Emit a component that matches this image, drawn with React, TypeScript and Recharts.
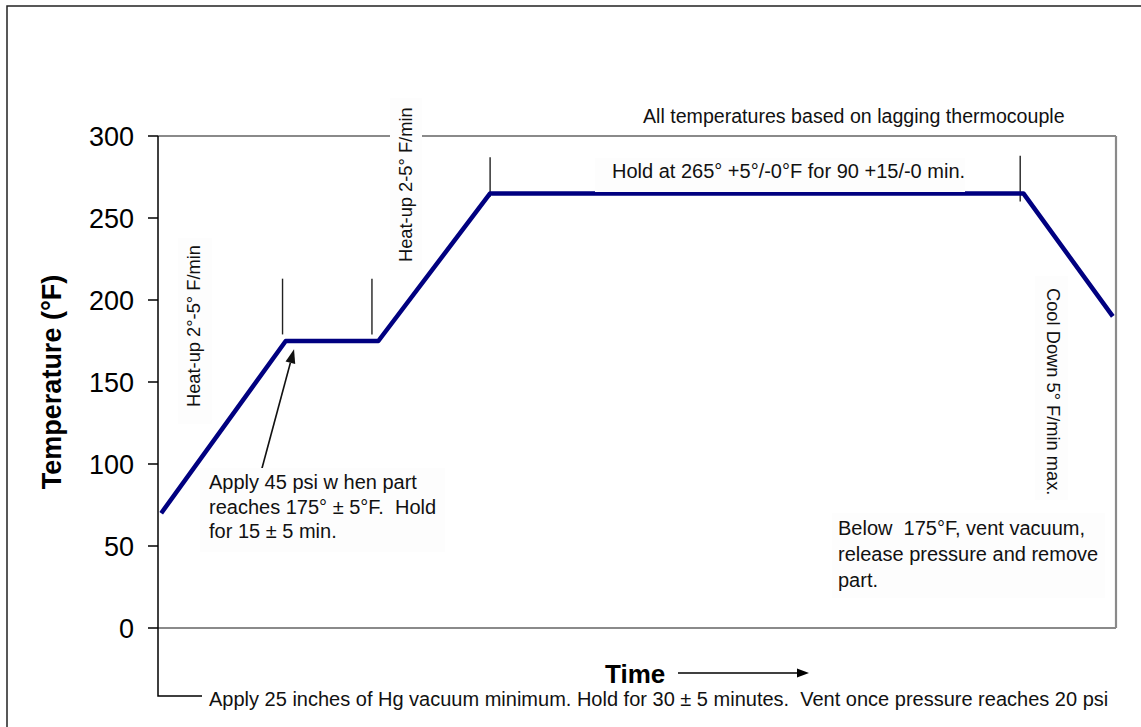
import React from 'react';
import { LineChart, Line, XAxis, YAxis, ReferenceLine } from 'recharts';

// cure cycle profile, time in arbitrary minutes across the plot width
const timeMin = [1, 40, 69, 104, 271, 299];
const tempF = [70, 175, 175, 265, 265, 190];
const tempTicks = [0, 50, 100, 150, 200, 250, 300];

// short vertical marks at the start/end of each hold: [time, from temp, to temp]
const holdMarks = [
  [39, 213, 179],
  [67, 213, 179],
  [104, 287, 263],
  [270, 288, 260],
];

// arrow pointing at the 175° corner: [time, temp] tail -> head
const arrowTail = [32.5, 97];
const arrowHead = [42.6, 170];

const FONT = '"Liberation Sans", Arial, sans-serif';

const data = timeMin.map((t, i) => ({ t, temp: tempF[i] }));

const ArrowShape = (props: any) => {
  const { x1, y1, x2, y2 } = props;
  const ang = Math.atan2(y2 - y1, x2 - x1);
  const len = 14;
  const w = 5;
  const bx = x2 - len * Math.cos(ang);
  const by = y2 - len * Math.sin(ang);
  const px = -Math.sin(ang) * w;
  const py = Math.cos(ang) * w;
  return (
    <g>
      <line x1={x1} y1={y1} x2={bx} y2={by} stroke="#111" strokeWidth={1.6} />
      <polygon points={`${x2},${y2} ${bx + px},${by + py} ${bx - px},${by - py}`} fill="#111" />
    </g>
  );
};

const textStyle: React.CSSProperties = { fontFamily: FONT, fontSize: 20, fill: '#111', whiteSpace: 'pre' };
const vertStyle: React.CSSProperties = { ...textStyle, fontSize: 18.3 };
const boxFill = '#fdfdfd';

export default function App() {
  return (
    <div style={{ position: 'absolute', left: 0, top: 0, width: 1141, height: 727, overflow: 'hidden', background: '#fff' }}>
      <LineChart
        width={1141}
        height={727}
        data={data}
        margin={{ top: 136, right: 25, bottom: 99, left: 0 }}
      >
        <XAxis dataKey="t" type="number" domain={[0, 300]} hide allowDataOverflow />
        <YAxis
          type="number"
          domain={[0, 300]}
          ticks={tempTicks}
          width={158}
          tickSize={10}
          tickMargin={14}
          axisLine={{ stroke: '#000', strokeWidth: 1.5 }}
          tickLine={{ stroke: '#000', strokeWidth: 1.5 }}
          tick={{ fill: '#000', fontSize: 27, fontFamily: FONT }}
        />
        <ReferenceLine y={300} stroke="#8a8a8a" strokeWidth={2.2} />
        <ReferenceLine x={300} stroke="#8a8a8a" strokeWidth={2.2} />
        <ReferenceLine y={0} stroke="#8a8a8a" strokeWidth={2.2} />
        {holdMarks.map(([t, a, b], i) => (
          <ReferenceLine
            key={i}
            segment={[{ x: t, y: a }, { x: t, y: b }]}
            stroke="#222"
            strokeWidth={1.4}
          />
        ))}
        <Line
          type="linear"
          dataKey="temp"
          stroke="#000080"
          strokeWidth={4.5}
          strokeLinejoin="round"
          dot={false}
          isAnimationActive={false}
        />
        <ReferenceLine
          segment={[{ x: arrowTail[0], y: arrowTail[1] }, { x: arrowHead[0], y: arrowHead[1] }]}
          shape={ArrowShape}
        />
      </LineChart>

      <svg width={1141} height={727} style={{ position: 'absolute', left: 0, top: 0, pointerEvents: 'none' }}>
        {/* page frame */}
        <rect x={7} y={6} width={1200} height={800} fill="none" stroke="#222" strokeWidth={1.5} />

        {/* axis title */}
        <text
          transform="translate(61,382) rotate(-90)"
          textAnchor="middle"
          style={{ fontFamily: FONT, fontSize: 27, fontWeight: 700, fill: '#000' }}
        >
          Temperature (°F)
        </text>

        {/* vacuum leader line */}
        <polyline points="158,628 158,696 202,696" fill="none" stroke="#000" strokeWidth={1.5} />
        <text x={209} y={706} style={textStyle}>
          {'Apply 25 inches of Hg vacuum minimum. Hold for 30 ± 5 minutes.  Vent once pressure reaches 20 psi'}
        </text>

        {/* time label */}
        <text x={605} y={683} style={{ fontFamily: FONT, fontSize: 26, fontWeight: 700, fill: '#000' }}>
          Time
        </text>
        <line x1={678} y1={673} x2={798} y2={673} stroke="#000" strokeWidth={1.6} />
        <polygon points="809,673 797,668.5 797,677.5" fill="#000" />

        <text x={643} y={123} style={{ ...textStyle, fontSize: 19.6 }}>
          All temperatures based on lagging thermocouple
        </text>

        <rect x={595} y={158} width={370} height={34} fill={boxFill} />
        <text x={612} y={178} style={textStyle}>
          Hold at 265° +5°/-0°F for 90 +15/-0 min.
        </text>

        <rect x={178} y={238} width={34} height={186} fill={boxFill} />
        <text transform="translate(200,407) rotate(-90)" style={vertStyle}>
          Heat-up 2°-5° F/min
        </text>

        <rect x={390} y={98} width={32} height={172} fill={boxFill} />
        <text transform="translate(412,262) rotate(-90)" style={vertStyle}>
          Heat-up 2-5° F/min
        </text>

        <rect x={1035} y={276} width={33} height={224} fill={boxFill} />
        <text transform="translate(1047,288) rotate(90)" style={vertStyle}>
          Cool Down 5° F/min max.
        </text>

        <rect x={200} y={468} width={245} height={84} fill={boxFill} />
        <text style={textStyle}>
          <tspan x={209} y={489}>Apply 45 psi w hen part</tspan>
          <tspan x={209} y={514}>{'reaches 175° ± 5°F.  Hold'}</tspan>
          <tspan x={209} y={538}>for 15 ± 5 min.</tspan>
        </text>

        <rect x={832} y={513} width={273} height={85} fill={boxFill} />
        <text style={textStyle}>
          <tspan x={838} y={535}>{'Below  175°F, vent vacuum,'}</tspan>
          <tspan x={838} y={561}>release pressure and remove</tspan>
          <tspan x={838} y={587}>part.</tspan>
        </text>
      </svg>
    </div>
  );
}
